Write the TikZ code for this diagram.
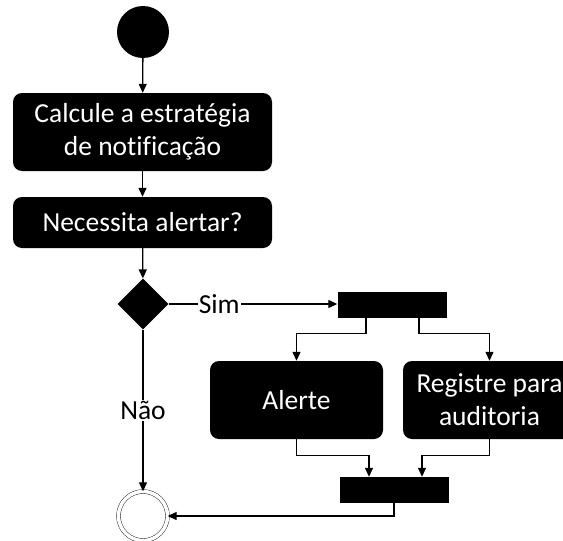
\documentclass[tikz,border=0pt]{standalone}
\usepackage{fontspec}
\setmainfont{Carlito}[Ligatures=NoCommon]
\usetikzlibrary{shapes.geometric,arrows.meta}

\begin{document}
\begin{tikzpicture}[
        x=1pt, y=-1pt,
        initial/.style={circle, fill=black, minimum size=52pt, inner sep=0pt},
        final/.style={circle, draw, thin, double, double distance=3.5pt, minimum size=49pt, inner sep=0pt},
        act/.style={rectangle, rounded corners=9pt, fill=black, text=white, align=center, inner sep=0pt,
            font=\fontsize{27.5}{33}\selectfont, minimum width=259pt},
        decision/.style={diamond, fill=black, minimum size=51pt, inner sep=0pt},
        bar/.style={rectangle, fill=black, minimum width=109pt, minimum height=26pt, inner sep=0pt},
        guard/.style={fill=white, inner sep=1pt, font=\fontsize{27.5}{33}\selectfont},
        arrow/.style={-{Triangle[length=9pt, width=8pt]}, line width=1.3pt}
    ]
    \useasboundingbox (0,0) rectangle (563,541);

    \node[initial] (start) at (143,32) {};
    \node[act, minimum height=78pt] (calc) at (142.5,132) {Calcule a estratégia\\de notificação};
    \node[act, minimum height=51pt] (need) at (142.5,222.5) {Necessita alertar?};
    \node[decision] (dec) at (143,304) {};
    \node[bar] (fork) at (392,305) {};
    \node[act, minimum width=173pt, minimum height=78pt] (alert) at (296.5,400) {Alerte};
    \node[act, minimum width=173pt, minimum height=78pt] (audit) at (489.5,400) {Registre para\\auditoria};
    \node[bar] (join) at (394,490) {};
    \node[final] (end) at (143,516) {};

    \draw[arrow] (start) -- (calc);
    \draw[arrow] (calc) -- (need);
    \draw[arrow] (need) -- (dec);
    \draw[arrow] (dec.east) -- node[guard, pos=0.3] {Sim} (dec.east -| fork.west);
    \draw[arrow] (dec) -- node[guard, pos=0.5] {Não} (end);

    % fork and join
    \draw[arrow] ([xshift=-26pt]fork.south) -- ++(0,15) -| (alert.north);
    \draw[arrow] ([xshift=27pt]fork.south) -- ++(0,15) -| (audit.north);
    \draw[arrow] (alert.south) -- ++(0,16) -| ([xshift=-25pt]join.north);
    \draw[arrow] (audit.south) -- ++(0,16) -| ([xshift=28pt]join.north);
    \draw[arrow] (join.south) |- (end.east);
\end{tikzpicture}
\end{document}
